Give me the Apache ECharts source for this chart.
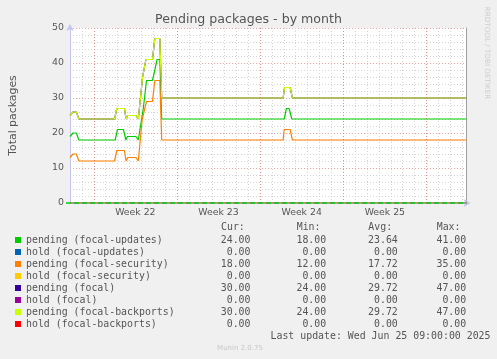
<!DOCTYPE html>
<html><head><meta charset="utf-8">
<script src="https://cdn.jsdelivr.net/npm/echarts@6/dist/echarts.min.js"></script>
<style>html,body{margin:0;padding:0;background:#f0f0f0}#c{width:497px;height:359px}</style>
</head><body><div id="c"></div>
<script>
// ---- data ----
const seriesNames = ['pending (focal-updates)','hold (focal-updates)','pending (focal-security)','hold (focal-security)','pending (focal)','hold (focal)','pending (focal-backports)','hold (focal-backports)'];
const seriesColors = ['#00cc00','#0066b3','#ff8000','#ffcc00','#330099','#990099','#ccff00','#ff0000'];
// x = days since start of graph window
const pendingUpdates = [[0,19],[0.25,20],[0.53,20],[0.75,18],[3.8,18],[4.0,21],[4.5,21],[4.7,18],[4.83,19],[5.55,19],[5.75,18],[5.9,18],[6.17,27],[6.44,35],[6.94,35],[7.14,38],[7.33,41],[7.56,41],[7.72,24],[18.03,24],[18.22,27],[18.44,27],[18.67,24],[33.375,24]];
const holdUpdates = [[0,0],[33.375,0]];
const pendingSecurity = [[0,13],[0.25,14],[0.53,14],[0.75,12],[3.75,12],[3.94,15],[4.58,15],[4.72,12],[4.86,13],[5.55,13],[5.75,12],[5.9,12],[6.08,24],[6.44,29],[6.94,29],[7.14,35],[7.56,35],[7.72,18],[17.94,18],[18.03,21],[18.53,21],[18.72,18],[33.375,18]];
const holdSecurity = [[0,0],[33.375,0]];
const pendingFocal = [[0,25],[0.25,26],[0.53,26],[0.75,24],[3.75,24],[3.94,27],[4.58,27],[4.72,24],[4.86,25],[5.55,25],[5.75,24],[5.83,24],[6.11,36],[6.39,41],[6.94,41],[7.14,47],[7.56,47],[7.72,30],[17.94,30],[18.06,33],[18.53,33],[18.72,30],[33.375,30]];
const holdFocal = [[0,0],[33.375,0]];
const pendingBackports = [[0,25],[0.25,26],[0.53,26],[0.75,24],[3.75,24],[3.94,27],[4.58,27],[4.72,24],[4.86,25],[5.55,25],[5.75,24],[5.83,24],[6.11,36],[6.39,41],[6.94,41],[7.14,47],[7.56,47],[7.72,30],[17.94,30],[18.06,33],[18.53,33],[18.72,30],[33.375,30]];
const holdBackports = [[0,0],[33.375,0]];
const seriesData = [pendingUpdates, holdUpdates, pendingSecurity, holdSecurity, pendingFocal, holdFocal, pendingBackports, holdBackports];

const curValues = ['24.00','0.00','18.00','0.00','30.00','0.00','30.00','0.00'];
const minValues = ['18.00','0.00','12.00','0.00','24.00','0.00','24.00','0.00'];
const avgValues = ['23.64','0.00','17.72','0.00','29.72','0.00','29.72','0.00'];
const maxValues = ['41.00','0.00','35.00','0.00','47.00','0.00','47.00','0.00'];
const statHeaders = ['Cur:','Min:','Avg:','Max:'];

const weekLabels = ['Week 22','Week 23','Week 24','Week 25'];
const weekLabelDays = [5.5,12.5,19.5,26.5];
const weekStartDays = [2,9,16,23,30];
const xMax = 33.375;

const titleText = 'Pending packages - by month';
const yName = 'Total packages';
const lastUpdate = 'Last update: Wed Jun 25 09:00:00 2025';
const versionText = 'Munin 2.0.75';
const sideText = 'RRDTOOL / TOBI OETIKER';

// ---- chart ----
const chart = echarts.init(document.getElementById('c'), null, {renderer:'canvas'});
const TXT = '#555';
const MONO = 'DejaVu Sans Mono';
const SANS = 'DejaVu Sans';
const majorColor = 'rgba(225,90,90,0.55)';
const minorColor = '#d4d4d4';

const series = seriesNames.map((n,i)=>{
  const isHold = n.indexOf('hold') === 0;
  return {
    name:n, type:'line', data:seriesData[i], xAxisIndex:0, yAxisIndex:0,
    symbol:'none', color:seriesColors[i],
    lineStyle:{width:isHold?1:1.2, color:seriesColors[i], opacity:isHold?0.45:1},
    animation:false, silent:true, z:isHold?1:2
  };
});
series.push({
  name:'_weeks', type:'line', data:[], xAxisIndex:0, yAxisIndex:0, z:1, silent:true, animation:false,
  markLine:{symbol:['none','none'], silent:true, animation:false, label:{show:false},
    lineStyle:{color:majorColor, type:[1,2], width:1},
    data: weekStartDays.map(d=>({xAxis:d}))}
});

const colX = [221, 296.7, 368.3, 436.7];
const graphic = [];
statHeaders.forEach((h,i)=>graphic.push({type:'text', x:colX[i], y:227.3, silent:true,
  style:{text:h, fill:TXT, font:'9.9px "'+MONO+'"', textAlign:'left', textVerticalAlign:'middle'}}));
graphic.push({type:'text', x:490.5, y:336, silent:true,
  style:{text:lastUpdate, fill:TXT, font:'9.9px "'+MONO+'"', textAlign:'right', textVerticalAlign:'middle'}});
graphic.push({type:'text', x:240, y:348.5, silent:true,
  style:{text:versionText, fill:'#c8c8c8', font:'7px "'+SANS+'"', textAlign:'center', textVerticalAlign:'middle'}});
graphic.push({type:'text', x:487, y:53, rotation:-Math.PI/2, silent:true,
  style:{text:sideText, fill:'#cfcfcf', font:'7.2px "'+SANS+'"', textAlign:'center', textVerticalAlign:'middle'}});
// green dashed zero line drawn on top of everything in the plot
graphic.push({type:'line', z:100, zlevel:1, silent:true,
  shape:{x1:66, y1:203, x2:466.5, y2:203},
  style:{stroke:'#00cc00', lineWidth:1.6, lineDash:[5,3]}});

const option = {
  backgroundColor:'#f0f0f0',
  animation:false,
  title:{text:titleText, left:'center', top:13, padding:0,
    textStyle:{fontFamily:SANS, fontSize:12.6, fontWeight:'normal', color:TXT}},
  grid:{left:66, right:30.5, top:28, bottom:156, show:true, backgroundColor:'#ffffff', borderWidth:0},
  xAxis:[
    {type:'value', min:0, max:xMax, interval:1, position:'bottom',
      axisLine:{show:true, onZero:false, lineStyle:{color:'#c4c4f0'}, symbol:['none','arrow'], symbolSize:[6,7], symbolOffset:[0,4]},
      axisTick:{show:false},
      axisLabel:{show:true, customValues:weekLabelDays, color:TXT, fontFamily:SANS, fontSize:9.33, margin:5,
        formatter:v=>{const k=weekLabelDays.indexOf(v); return k>=0?weekLabels[k]:'';}},
      splitLine:{show:true, showMinLine:false, showMaxLine:false, lineStyle:{color:minorColor, type:[1,2]}}}
  ],
  yAxis:[
    {type:'value', min:0, max:50, interval:10, position:'left',
      name:yName, nameLocation:'middle', nameGap:51,
      nameTextStyle:{fontFamily:SANS, fontSize:10.9, color:TXT},
      axisLine:{show:true, lineStyle:{color:'#c4c4f0'}, symbol:['none','arrow'], symbolSize:[6,7], symbolOffset:[0,4]},
      axisTick:{show:false},
      axisLabel:{color:TXT, fontFamily:SANS, fontSize:9.4, margin:6},
      splitLine:{show:true, lineStyle:{color:majorColor, type:[1,2]}},
      minorTick:{show:false, splitNumber:5},
      minorSplitLine:{show:true, lineStyle:{color:minorColor, type:[1,2]}}},
    {type:'value', min:0, max:50, interval:10, position:'right',
      axisLine:{show:true, lineStyle:{color:'#a0a0a0'}},
      axisTick:{show:false}, axisLabel:{show:false}, splitLine:{show:false}}
  ],
  legend:{orient:'vertical', left:15, top:234, padding:0, itemWidth:6, itemHeight:6, itemGap:0,
    icon:'rect', selectedMode:false, data:seriesNames,
    itemStyle:{borderWidth:0, opacity:1},
    formatter:name=>{const i=seriesNames.indexOf(name);
      return '{n|'+name+'}{c|'+curValues[i]+'}{m|'+minValues[i]+'}{a|'+avgValues[i]+'}{x|'+maxValues[i]+'}';},
    textStyle:{fontFamily:MONO, fontSize:9.9, color:TXT, lineHeight:12,
      rich:{
        n:{fontFamily:MONO, fontSize:9.9, color:TXT, width:194.5, align:'left', lineHeight:12},
        c:{fontFamily:MONO, fontSize:9.9, color:TXT, width:30, align:'right', lineHeight:12},
        m:{fontFamily:MONO, fontSize:9.9, color:TXT, width:75.7, align:'right', lineHeight:12},
        a:{fontFamily:MONO, fontSize:9.9, color:TXT, width:71.6, align:'right', lineHeight:12},
        x:{fontFamily:MONO, fontSize:9.9, color:TXT, width:68.4, align:'right', lineHeight:12}
      }}},
  graphic:graphic,
  series:series
};
chart.setOption(option);
</script>
</body></html>
